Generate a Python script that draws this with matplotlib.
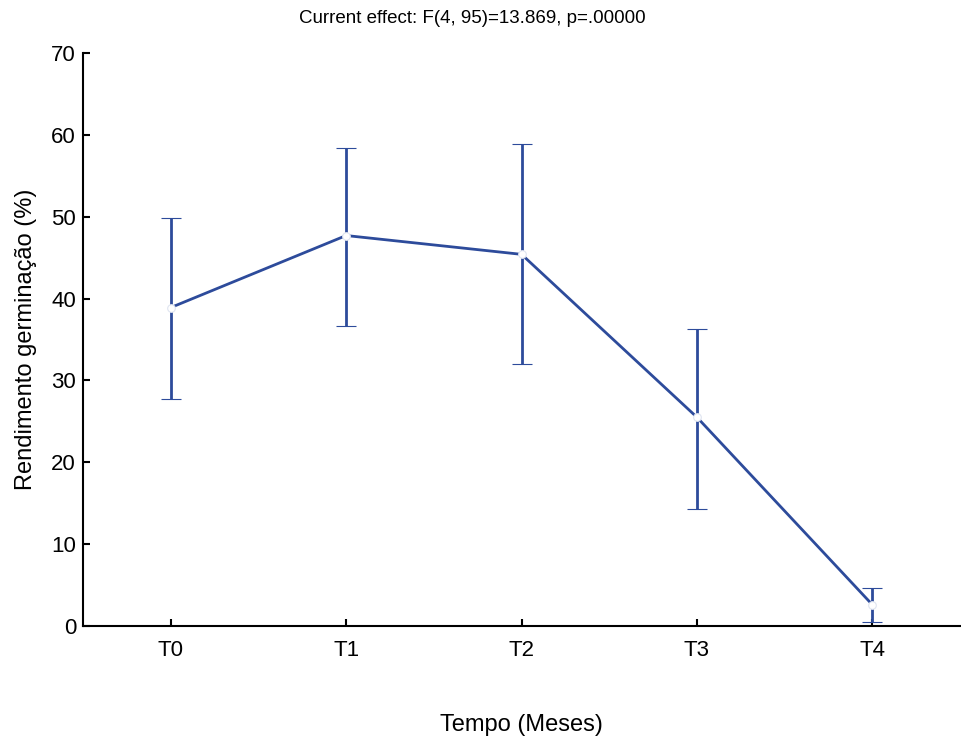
import numpy as np
import matplotlib
matplotlib.use('Agg')
from matplotlib import pyplot as plt

# germination yield per time step
categories = ['T0', 'T1', 'T2', 'T3', 'T4']
means = [38.9, 47.7, 45.4, 25.5, 2.6]
upper = [49.9, 58.4, 58.9, 36.3, 4.6]
lower = [27.7, 36.6, 32.0, 14.3, 0.5]
title = 'Current effect: F(4, 95)=13.869, p=.00000'

plt.rcParams['font.family'] = ['Liberation Sans', 'DejaVu Sans']

fig = plt.figure(figsize=(9.61, 7.41), dpi=100)
ax = fig.add_axes([0.0864, 0.1552, 0.9126, 0.7733])

x = np.arange(len(categories))
m = np.array(means)
yerr = [m - np.array(lower), np.array(upper) - m]
color = '#2d4b9b'

ax.errorbar(x, m, yerr=yerr, color=color, lw=2, elinewidth=2,
            capsize=7, capthick=2.2, marker='o', ms=5.5,
            mfc='white', mec='#dfe4f0', mew=0.8)

ax.set_xlim(-0.5, 4.5)
ax.set_ylim(0, 70)
ax.set_yticks(range(0, 71, 10))
ax.set_xticks(x)
ax.set_xticklabels(categories)

for s in ['top', 'right']:
    ax.spines[s].set_visible(False)
for s in ['left', 'bottom']:
    ax.spines[s].set_linewidth(1.5)
ax.tick_params(direction='in', length=5, width=1.5, labelsize=16)
ax.tick_params(axis='y', pad=5)
ax.tick_params(axis='x', pad=10)

ax.set_ylabel('Rendimento germinação (%)', fontsize=17, labelpad=10)
ax.set_xlabel('Tempo (Meses)', fontsize=17, labelpad=38)
fig.text(0.491, 0.975, title, fontsize=13.5, ha='center', va='center')

fig.savefig('out.png', dpi=100)
